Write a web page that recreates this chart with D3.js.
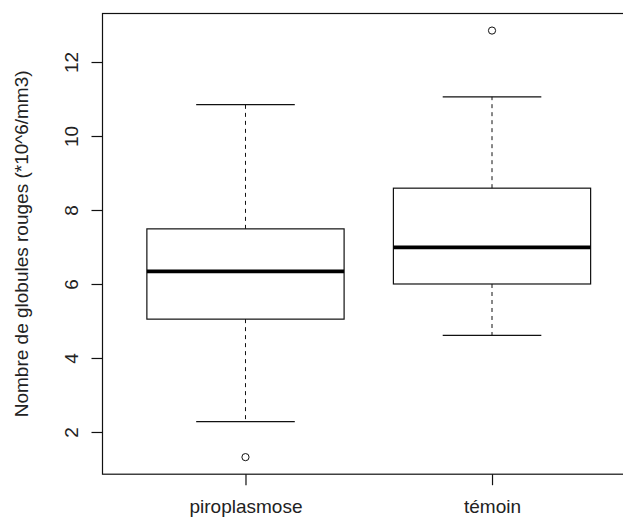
<!DOCTYPE html>
<html>
<head>
<meta charset="utf-8">
<script src="https://cdn.jsdelivr.net/npm/d3@7"></script>
<style>
  html, body { margin: 0; padding: 0; background: #fff; }
  svg { display: block; }
  text { font-family: "Liberation Sans", Arial, sans-serif; fill: #222; }
</style>
</head>
<body>
<script>
// Red blood cell counts per group: five-number summaries plus outliers
const categories   = ["piroplasmose", "témoin"];
const whiskerLow   = [2.28, 4.61];
const quartile1    = [5.05, 6.00];
const medians      = [6.34, 6.99];
const quartile3    = [7.49, 8.59];
const whiskerHigh  = [10.85, 11.06];
const outliers     = [[1.32], [12.85]];
const yTicks       = [2, 4, 6, 8, 10, 12];
const yLabel       = "Nombre de globules rouges (*10^6/mm3)";

const W = 623, H = 519;
const svg = d3.select("body").append("svg").attr("width", W).attr("height", H);

// R-style ranges: x from 0.5 to n+0.5, y over the data; both widened by 4%
const n = categories.length;
const xPad = 0.04 * n;
const x = d3.scaleLinear().domain([0.5 - xPad, n + 0.5 + xPad]).range([102.5, 635]);

const allVals = whiskerLow.concat(whiskerHigh, outliers.flat());
const [ymin, ymax] = d3.extent(allVals);
const yPad = 0.04 * (ymax - ymin);
const y = d3.scaleLinear().domain([ymin - yPad, ymax + yPad]).range([474.2, 13.5]);

const boxWex = 0.8, stapleWex = 0.5;
const ink = "#111";

const groups = svg.append("g").selectAll("g")
  .data(categories.map((c, i) => ({
    c, i, pos: i + 1,
    lo: whiskerLow[i], q1: quartile1[i], med: medians[i], q3: quartile3[i], hi: whiskerHigh[i],
    out: outliers[i]
  })))
  .join("g");

// Dashed whiskers
groups.each(function(d) {
  const g = d3.select(this);
  const cx = x(d.pos);
  g.append("line").attr("x1", cx).attr("x2", cx).attr("y1", y(d.q3)).attr("y2", y(d.hi))
    .attr("stroke", ink).attr("stroke-width", 1).attr("stroke-dasharray", "4,4");
  g.append("line").attr("x1", cx).attr("x2", cx).attr("y1", y(d.q1)).attr("y2", y(d.lo))
    .attr("stroke", ink).attr("stroke-width", 1).attr("stroke-dasharray", "4,4");

  // Staples
  const sw = boxWex * stapleWex / 2;
  [d.lo, d.hi].forEach(v => {
    g.append("line").attr("x1", x(d.pos - sw)).attr("x2", x(d.pos + sw))
      .attr("y1", y(v)).attr("y2", y(v)).attr("stroke", ink).attr("stroke-width", 1.2);
  });

  // Box
  const bw = boxWex / 2;
  g.append("rect")
    .attr("x", x(d.pos - bw)).attr("width", x(d.pos + bw) - x(d.pos - bw))
    .attr("y", y(d.q3)).attr("height", y(d.q1) - y(d.q3))
    .attr("fill", "none").attr("stroke", ink).attr("stroke-width", 1.2);

  // Median
  g.append("line").attr("x1", x(d.pos - bw)).attr("x2", x(d.pos + bw))
    .attr("y1", y(d.med)).attr("y2", y(d.med))
    .attr("stroke", "#000").attr("stroke-width", 3.6);

  // Outliers
  g.selectAll("circle.out").data(d.out).join("circle")
    .attr("class", "out")
    .attr("cx", cx).attr("cy", v => y(v)).attr("r", 3.6)
    .attr("fill", "none").attr("stroke", ink).attr("stroke-width", 1);
});

// Plot frame
svg.append("rect")
  .attr("x", x.range()[0]).attr("y", y.range()[1])
  .attr("width", x.range()[1] - x.range()[0])
  .attr("height", y.range()[0] - y.range()[1])
  .attr("fill", "none").attr("stroke", ink).attr("stroke-width", 1.2);

// Y axis with labels parallel to the axis
const yAxis = svg.append("g")
  .attr("transform", `translate(${x.range()[0]},0)`)
  .call(d3.axisLeft(y).tickValues(yTicks).tickSize(11).tickFormat(d3.format("d")));
yAxis.select(".domain").remove();
yAxis.selectAll(".tick line").attr("stroke", ink).attr("stroke-width", 1.2);
yAxis.selectAll(".tick text")
  .attr("x", null).attr("dy", null)
  .attr("text-anchor", "middle")
  .attr("transform", "translate(-25,0) rotate(-90)")
  .attr("font-size", 19).style("fill", "#222");

// X axis with category names
const xAxis = svg.append("g")
  .attr("transform", `translate(0,${y.range()[0]})`)
  .call(d3.axisBottom(x).tickValues(categories.map((c, i) => i + 1))
    .tickSize(11).tickFormat(v => categories[v - 1]));
xAxis.select(".domain").remove();
xAxis.selectAll(".tick line").attr("stroke", ink).attr("stroke-width", 1.2);
xAxis.selectAll(".tick text")
  .attr("y", 39).attr("dy", null)
  .attr("font-size", 19).style("fill", "#222");

// Y axis title
svg.append("text")
  .attr("transform", `translate(28,${(y.range()[0] + y.range()[1]) / 2}) rotate(-90)`)
  .attr("text-anchor", "middle")
  .attr("font-size", 19)
  .text(yLabel);
</script>
</body>
</html>
